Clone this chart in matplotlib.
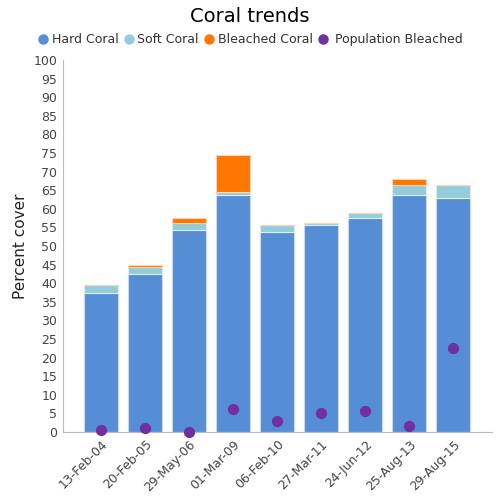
import numpy as np
import matplotlib
matplotlib.use("Agg")
import matplotlib.pyplot as plt
from matplotlib.lines import Line2D

dates = ["13-Feb-04", "20-Feb-05", "29-May-06", "01-Mar-09", "06-Feb-10",
         "27-Mar-11", "24-Jun-12", "25-Aug-13", "29-Aug-15"]
hard_coral = [37.4, 42.5, 54.3, 63.7, 53.8, 55.6, 57.4, 63.8, 63.0]
soft_coral = [2.0, 1.9, 1.9, 0.8, 1.8, 0.7, 1.4, 2.6, 3.3]
bleached_coral = [0.0, 0.6, 1.3, 10.0, 0.0, 0.0, 0.0, 1.7, 0.0]
population_bleached = [0.5, 1.2, 0.1, 6.3, 3.0, 5.0, 5.7, 1.5, 22.5]

c_hard = "#558ed5"
c_soft = "#93cddd"
c_bleach = "#ff7700"
c_pop = "#7030a0"

fig = plt.figure(figsize=(5, 5), dpi=100)
ax = fig.add_axes([0.126, 0.136, 0.858, 0.744])

x = np.arange(len(dates))
w = 0.77
hard = np.array(hard_coral)
soft = np.array(soft_coral)
ax.bar(x, hard, w, color=c_hard, edgecolor="#c8d8ee", linewidth=0.8)
ax.bar(x, soft, w, bottom=hard, color=c_soft, edgecolor="#dfeef3", linewidth=0.8)
ax.bar(x, bleached_coral, w, bottom=hard + soft, color=c_bleach,
       edgecolor="#ffd2b0", linewidth=0.8)
ax.scatter(x, population_bleached, s=50, color=c_pop, zorder=5, clip_on=False)

ax.set_xlim(-0.864, len(dates) - 1 + 0.875)
ax.set_ylim(0, 100)
ax.set_yticks(range(0, 101, 5))
ax.set_xticks(x)
ax.set_xticklabels(dates, rotation=45, ha="right", rotation_mode="anchor",
                   fontsize=9, color="#444444")
ax.tick_params(axis="y", labelsize=9, labelcolor="#444444", length=0, pad=4)
ax.tick_params(axis="x", length=0, pad=4)
for s in ["top", "right"]:
    ax.spines[s].set_visible(False)
ax.spines["left"].set_color("#bbbbbb")
ax.spines["bottom"].set_color("#bbbbbb")
ax.set_ylabel("Percent cover", fontsize=11, color="#222222", labelpad=4)

fig.suptitle("Coral trends", fontsize=14, y=0.985)

handles = [Line2D([], [], marker="o", ls="", color=c, markersize=6.5)
           for c in [c_hard, c_soft, c_bleach, c_pop]]
labels = ["Hard Coral", "Soft Coral", "Bleached Coral", " Population Bleached"]
fig.legend(handles, labels, loc="center", bbox_to_anchor=(0.5, 0.921), ncol=4,
           frameon=False, fontsize=9, handletextpad=0.2, handlelength=1.0,
           columnspacing=0.3, labelcolor="#333333")

fig.savefig("out.png", dpi=100)
